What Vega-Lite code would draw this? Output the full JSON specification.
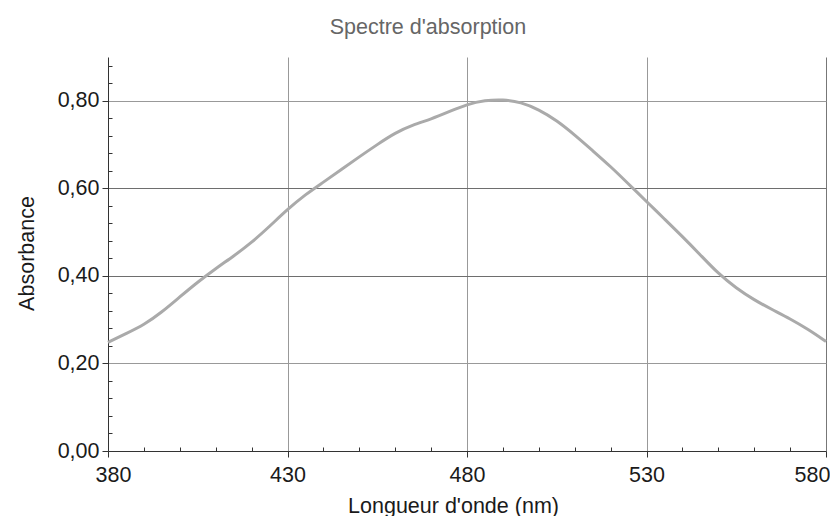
{
  "$schema": "https://vega.github.io/schema/vega-lite/v6.json",
  "width": 718,
  "height": 394,
  "autosize": "none",
  "padding": {"left": 108, "top": 57, "right": 4, "bottom": 65},
  "background": "white",
  "title": {
    "text": "Spectre d'absorption",
    "frame": "group",
    "anchor": "middle",
    "dx": -39,
    "offset": -1,
    "baseline": "alphabetic",
    "fontSize": 21.5,
    "font": "Liberation Sans",
    "fontWeight": "normal",
    "color": "#666666"
  },
  "config": {"view": {"stroke": null}, "font": "Liberation Sans"},
  "data": {
    "values": [
      {"nm": 380, "A": 0.248}, {"nm": 385, "A": 0.268}, {"nm": 390, "A": 0.288},
      {"nm": 395, "A": 0.317}, {"nm": 400, "A": 0.352}, {"nm": 405, "A": 0.386},
      {"nm": 410, "A": 0.417}, {"nm": 415, "A": 0.445}, {"nm": 420, "A": 0.476},
      {"nm": 425, "A": 0.513}, {"nm": 430, "A": 0.552}, {"nm": 435, "A": 0.586},
      {"nm": 440, "A": 0.614}, {"nm": 445, "A": 0.643}, {"nm": 450, "A": 0.672},
      {"nm": 455, "A": 0.700}, {"nm": 460, "A": 0.727}, {"nm": 465, "A": 0.745},
      {"nm": 470, "A": 0.758}, {"nm": 475, "A": 0.775}, {"nm": 480, "A": 0.792},
      {"nm": 485, "A": 0.801}, {"nm": 490, "A": 0.803}, {"nm": 495, "A": 0.797},
      {"nm": 500, "A": 0.780}, {"nm": 505, "A": 0.755}, {"nm": 510, "A": 0.722},
      {"nm": 515, "A": 0.686}, {"nm": 520, "A": 0.650}, {"nm": 525, "A": 0.610},
      {"nm": 530, "A": 0.570}, {"nm": 535, "A": 0.530}, {"nm": 540, "A": 0.490},
      {"nm": 545, "A": 0.448}, {"nm": 550, "A": 0.405}, {"nm": 555, "A": 0.372},
      {"nm": 560, "A": 0.345}, {"nm": 565, "A": 0.323}, {"nm": 570, "A": 0.302},
      {"nm": 575, "A": 0.278}, {"nm": 580, "A": 0.250}
    ]
  },
  "mark": {"type": "line", "interpolate": "basis", "color": "#aaaaaa", "strokeWidth": 3},
  "encoding": {
    "x": {
      "field": "nm",
      "type": "quantitative",
      "scale": {"domain": [380, 580], "nice": false, "zero": false},
      "axis": {
        "values": [380, 390, 400, 410, 420, 430, 440, 450, 460, 470, 480, 490, 500, 510, 520, 530, 540, 550, 560, 570, 580],
        "labelExpr": "(datum.value-380)%50===0 ? datum.value : ''",
        "labelOverlap": false,
        "labelFlush": false,
        "labelFont": "Liberation Sans",
        "labelFontSize": 21.5,
        "labelColor": "#1a1a1a",
        "labelPadding": 7,
        "labelOffset": {"condition": [{"test": "datum.value===380", "value": 5}, {"test": "datum.value===580", "value": -14}], "value": 0},
        "tickSize": {"condition": {"test": "(datum.value-380)%50===0", "value": 6}, "value": -4},
        "tickColor": "#333333",
        "tickWidth": 1,
        "domainColor": "#333333",
        "domainWidth": 1,
        "grid": true,
        "gridColor": {"condition": {"test": "datum.value===580", "value": "#777777"}, "value": "#999999"},
        "gridOpacity": {"condition": {"test": "(datum.value-380)%50===0 && datum.value>380", "value": 1}, "value": 0},
        "gridWidth": 1,
        "title": "Longueur d'onde (nm)",
        "titleFont": "Liberation Sans",
        "titleFontSize": 21.5,
        "titleFontWeight": "normal",
        "titleColor": "#1a1a1a",
        "titleX": 345,
        "titleY": 61,
        "titleBaseline": "alphabetic",
        "titleAlign": "center"
      }
    },
    "y": {
      "field": "A",
      "type": "quantitative",
      "scale": {"domain": [0, 0.9], "nice": false},
      "axis": {
        "values": [0, 0.04, 0.08, 0.12, 0.16, 0.2, 0.24, 0.28, 0.32, 0.36, 0.4, 0.44, 0.48, 0.52, 0.56, 0.6, 0.64, 0.68, 0.72, 0.76, 0.8, 0.84, 0.88],
        "labelExpr": "round(datum.value*100)%20===0 ? replace(format(datum.value,'.2f'),'.',',') : ''",
        "labelOverlap": false,
        "labelFlush": false,
        "labelFont": "Liberation Sans",
        "labelFontSize": 21.5,
        "labelColor": "#1a1a1a",
        "labelPadding": 3,
        "tickSize": {"condition": {"test": "round(datum.value*100)%20===0", "value": 6}, "value": -4},
        "tickColor": "#333333",
        "tickWidth": 1,
        "domainColor": "#333333",
        "domainWidth": 1,
        "grid": true,
        "gridColor": {"condition": {"test": "round(datum.value*100)===40 || round(datum.value*100)===60", "value": "#6e6e6e"}, "value": "#999999"},
        "gridOpacity": {"condition": {"test": "round(datum.value*100)%20===0 && datum.value>0", "value": 1}, "value": 0},
        "gridWidth": 1,
        "title": "Absorbance",
        "titleFont": "Liberation Sans",
        "titleFontSize": 21.5,
        "titleFontWeight": "normal",
        "titleColor": "#1a1a1a",
        "titleX": -75,
        "titleY": 196,
        "titleAngle": -90,
        "titleBaseline": "alphabetic",
        "titleAlign": "center"
      }
    }
  }
}
